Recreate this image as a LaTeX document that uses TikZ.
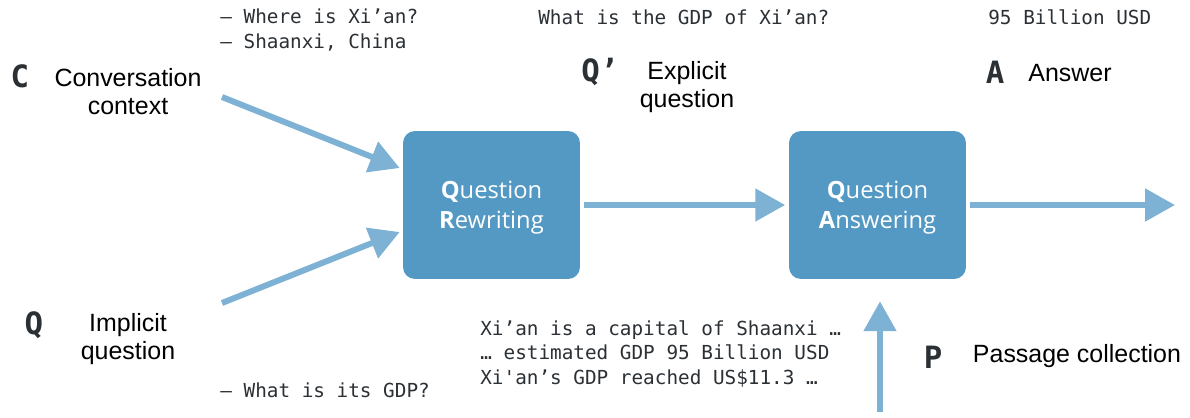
\documentclass[tikz,border=0pt]{standalone}
\usepackage{fontspec}
\setmainfont{Liberation Sans}
\setmonofont{DejaVu Sans Mono}
\newfontfamily\boxfont{Open Sans}
\usetikzlibrary{arrows.meta,calc}
\definecolor{boxblue}{HTML}{5499C3}
\definecolor{arrowblue}{HTML}{7EB2D4}
\definecolor{inkgray}{HTML}{2B3035}
\tikzstyle{stagebox}=[rounded corners=6.8pt,fill=boxblue,text=white,
                      minimum width=3.54cm,minimum height=2.96cm,align=center,
                      text depth=0pt,
                      font=\boxfont\fontsize{13.5}{17}\selectfont]
\tikzstyle{bigletter}=[text=inkgray,inner sep=0pt,
                       font=\ttfamily\bfseries\fontsize{17.5}{20}\selectfont]
\tikzstyle{desc}=[align=center,inner sep=0pt,
                  font=\fontsize{14.2}{15.5}\selectfont]
\tikzstyle{sample}=[anchor=west,align=left,text=inkgray,inner sep=0pt,
                    font=\ttfamily\fontsize{11}{14.2}\selectfont]
\tikzstyle{flow}=[draw=arrowblue,line width=3.4pt,
                  -{Triangle[length=17pt,width=18pt]}]

\begin{document}
\begin{tikzpicture}[x={(0.02cm,0)},y={(0,-0.02cm)}]
    \useasboundingbox (0,0) rectangle (1190,417);
    \node (qr) at (491.5,205) [stagebox]{\textbf{Q}uestion\\\textbf{R}ewriting};
    \node (qa) at (877.5,205) [stagebox]{\textbf{Q}uestion\\\textbf{A}nswering};

    \node (cl) at (20,76) [bigletter]{C};
    \node (ct) at (128,91.5) [desc]{Conversation\\context};
    \node (cs) at (220,30) [sample]{– Where is Xi’an?\\– Shaanxi, China};

    \node (ql) at (34,325) [bigletter]{Q};
    \node (qt) at (128,339) [desc]{Implicit\\question};
    \node (qs) at (220,390) [sample]{– What is its GDP?};

    \node (el) at (600,72) [bigletter]{Q’};
    \node (et) at (687,87) [desc]{Explicit\\question};
    \node (es) at (538,17) [sample]{What is the GDP of Xi’an?};

    \node (al) at (995,72) [bigletter]{A};
    \node (at) at (1070,73) [desc]{Answer};
    \node (as) at (988,17) [sample]{95 Billion USD};

    \node (pl) at (933,357) [bigletter]{P};
    \node (pt) at (1077,356) [desc]{Passage collection};
    \node (ps) at (480,354) [sample]{Xi’an is a capital of Shaanxi …\\
                                      … estimated GDP 95 Billion USD\\
                                      Xi'an’s GDP reached US\$11.3 …};

    \coordinate (cstart) at (222,97);
    \coordinate (qstart) at (222,303);
    \coordinate (pstart) at (880,412);
    \coordinate (out) at (1175,205);
    \draw[flow] (cstart) -- ($(qr.west)+(-3,-37)$);
    \draw[flow] (qstart) -- ($(qr.west)+(-3,27)$);
    \draw[flow,shorten <=2pt,shorten >=2pt] (qr.east) -- (qa.west);
    \draw[flow,shorten <=2pt] (qa.east) -- (out);
    \draw[flow,shorten >=12.5pt] (pstart) -- (pstart |- qa.south);
  \end{tikzpicture}
\end{document}
